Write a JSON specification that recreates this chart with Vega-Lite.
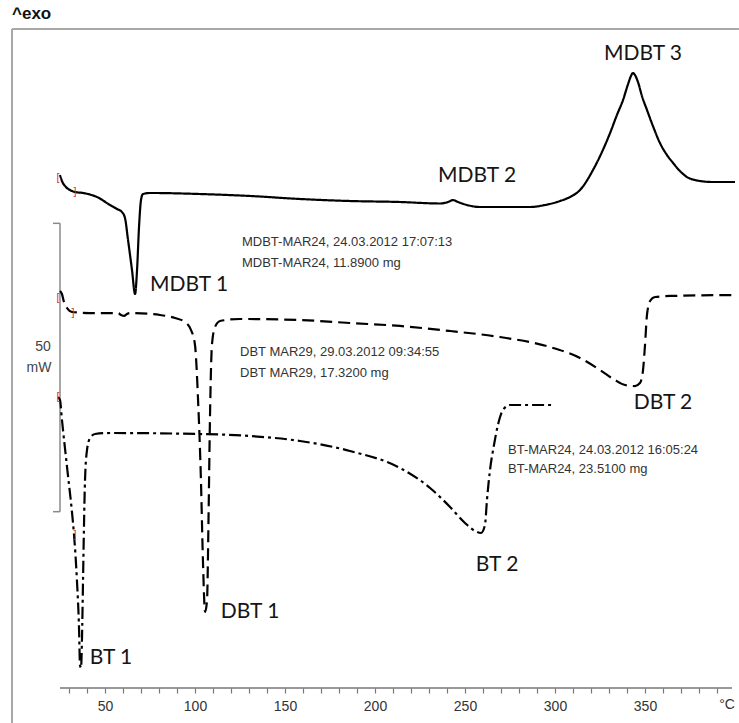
{
  "$schema": "https://vega.github.io/schema/vega-lite/v6.json",
  "width": 739,
  "height": 688,
  "autosize": {"type": "none"},
  "padding": {"left": 0, "top": 0, "right": 0, "bottom": 35},
  "background": "white",
  "config": {"view": {"stroke": null}},
  "datasets": {
    "curves": [
      {"s":"MDBT","t":25.0,"mw":94.81},{"s":"MDBT","t":26.1,"mw":93.77},{"s":"MDBT","t":28.3,"mw":92.73},{"s":"MDBT","t":30.6,"mw":92.21},{"s":"MDBT","t":33.3,"mw":91.87},{"s":"MDBT","t":37.8,"mw":91.70},{"s":"MDBT","t":45.6,"mw":91.00},{"s":"MDBT","t":52.8,"mw":89.62},{"s":"MDBT","t":56.7,"mw":88.93},{"s":"MDBT","t":59.4,"mw":88.41},{"s":"MDBT","t":61.1,"mw":87.37},{"s":"MDBT","t":62.8,"mw":83.56},{"s":"MDBT","t":65.0,"mw":78.37},{"s":"MDBT","t":66.7,"mw":74.22},{"s":"MDBT","t":67.8,"mw":78.37},{"s":"MDBT","t":68.9,"mw":85.81},{"s":"MDBT","t":70.0,"mw":90.48},{"s":"MDBT","t":71.1,"mw":91.52},{"s":"MDBT","t":75.0,"mw":91.70},{"s":"MDBT","t":102.8,"mw":91.52},{"s":"MDBT","t":130.6,"mw":91.18},{"s":"MDBT","t":158.3,"mw":90.66},{"s":"MDBT","t":186.1,"mw":90.31},{"s":"MDBT","t":213.9,"mw":90.14},{"s":"MDBT","t":236.1,"mw":89.88},{"s":"MDBT","t":240.6,"mw":90.14},{"s":"MDBT","t":243.3,"mw":90.48},{"s":"MDBT","t":246.1,"mw":90.14},{"s":"MDBT","t":251.1,"mw":89.62},{"s":"MDBT","t":258.3,"mw":89.27},{"s":"MDBT","t":286.1,"mw":89.27},{"s":"MDBT","t":294.4,"mw":89.62},{"s":"MDBT","t":302.8,"mw":90.31},{"s":"MDBT","t":308.3,"mw":91.00},{"s":"MDBT","t":313.9,"mw":92.21},{"s":"MDBT","t":321.1,"mw":95.67},{"s":"MDBT","t":326.1,"mw":98.79},{"s":"MDBT","t":330.6,"mw":102.08},{"s":"MDBT","t":334.4,"mw":105.19},{"s":"MDBT","t":337.8,"mw":107.79},{"s":"MDBT","t":340.6,"mw":110.55},{"s":"MDBT","t":342.2,"mw":111.94},{"s":"MDBT","t":343.3,"mw":112.46},{"s":"MDBT","t":344.4,"mw":112.11},{"s":"MDBT","t":346.1,"mw":110.90},{"s":"MDBT","t":348.3,"mw":108.48},{"s":"MDBT","t":351.1,"mw":106.06},{"s":"MDBT","t":354.4,"mw":103.29},{"s":"MDBT","t":358.3,"mw":100.35},{"s":"MDBT","t":362.2,"mw":98.27},{"s":"MDBT","t":365.6,"mw":96.89},{"s":"MDBT","t":369.4,"mw":95.50},{"s":"MDBT","t":373.3,"mw":94.46},{"s":"MDBT","t":377.8,"mw":93.94},{"s":"MDBT","t":380.6,"mw":93.77},{"s":"MDBT","t":387.8,"mw":93.60},{"s":"MDBT","t":400.0,"mw":93.60},
      {"s":"DBT","t":25.0,"mw":74.74},{"s":"DBT","t":26.1,"mw":74.22},{"s":"DBT","t":27.2,"mw":72.84},{"s":"DBT","t":28.9,"mw":71.80},{"s":"DBT","t":31.7,"mw":71.11},{"s":"DBT","t":41.7,"mw":70.93},{"s":"DBT","t":57.2,"mw":70.93},{"s":"DBT","t":58.9,"mw":70.59},{"s":"DBT","t":60.6,"mw":70.42},{"s":"DBT","t":62.2,"mw":70.76},{"s":"DBT","t":63.9,"mw":70.93},{"s":"DBT","t":80.6,"mw":70.59},{"s":"DBT","t":88.9,"mw":70.07},{"s":"DBT","t":94.4,"mw":69.38},{"s":"DBT","t":97.8,"mw":67.99},{"s":"DBT","t":100.0,"mw":65.40},{"s":"DBT","t":101.7,"mw":55.88},{"s":"DBT","t":103.3,"mw":42.04},{"s":"DBT","t":104.4,"mw":28.20},{"s":"DBT","t":105.6,"mw":19.20},{"s":"DBT","t":106.7,"mw":21.28},{"s":"DBT","t":107.5,"mw":35.12},{"s":"DBT","t":108.3,"mw":52.42},{"s":"DBT","t":109.4,"mw":65.40},{"s":"DBT","t":111.1,"mw":68.51},{"s":"DBT","t":113.9,"mw":69.55},{"s":"DBT","t":125.0,"mw":69.90},{"s":"DBT","t":158.3,"mw":69.72},{"s":"DBT","t":186.1,"mw":69.20},{"s":"DBT","t":213.9,"mw":68.69},{"s":"DBT","t":241.7,"mw":67.82},{"s":"DBT","t":269.4,"mw":66.78},{"s":"DBT","t":297.2,"mw":65.05},{"s":"DBT","t":313.9,"mw":63.15},{"s":"DBT","t":325.0,"mw":61.07},{"s":"DBT","t":333.3,"mw":59.34},{"s":"DBT","t":338.9,"mw":58.48},{"s":"DBT","t":344.4,"mw":58.30},{"s":"DBT","t":347.2,"mw":58.82},{"s":"DBT","t":348.9,"mw":61.07},{"s":"DBT","t":350.0,"mw":65.40},{"s":"DBT","t":351.1,"mw":70.59},{"s":"DBT","t":352.8,"mw":73.01},{"s":"DBT","t":355.6,"mw":73.70},{"s":"DBT","t":363.9,"mw":73.88},{"s":"DBT","t":401.1,"mw":74.05},
      {"s":"BT","t":23.9,"mw":56.40},{"s":"BT","t":25.0,"mw":55.88},{"s":"BT","t":26.1,"mw":52.42},{"s":"BT","t":28.9,"mw":44.29},{"s":"BT","t":31.7,"mw":36.33},{"s":"BT","t":32.8,"mw":32.53},{"s":"BT","t":34.4,"mw":24.74},{"s":"BT","t":35.6,"mw":16.09},{"s":"BT","t":36.1,"mw":10.03},{"s":"BT","t":36.7,"mw":9.52},{"s":"BT","t":37.2,"mw":14.36},{"s":"BT","t":37.8,"mw":24.74},{"s":"BT","t":38.3,"mw":33.74},{"s":"BT","t":38.9,"mw":42.04},{"s":"BT","t":40.0,"mw":47.23},{"s":"BT","t":41.7,"mw":49.31},{"s":"BT","t":44.4,"mw":50.00},{"s":"BT","t":52.8,"mw":50.17},{"s":"BT","t":102.8,"mw":50.00},{"s":"BT","t":130.6,"mw":49.65},{"s":"BT","t":158.3,"mw":48.79},{"s":"BT","t":186.1,"mw":47.06},{"s":"BT","t":213.9,"mw":44.12},{"s":"BT","t":230.6,"mw":40.66},{"s":"BT","t":241.7,"mw":37.37},{"s":"BT","t":250.0,"mw":34.60},{"s":"BT","t":255.6,"mw":33.22},{"s":"BT","t":258.9,"mw":32.87},{"s":"BT","t":261.1,"mw":34.26},{"s":"BT","t":262.2,"mw":38.58},{"s":"BT","t":263.9,"mw":43.77},{"s":"BT","t":266.1,"mw":48.10},{"s":"BT","t":268.3,"mw":51.56},{"s":"BT","t":271.1,"mw":54.15},{"s":"BT","t":275.0,"mw":55.02},{"s":"BT","t":298.9,"mw":55.02}
    ],
    "frame": [
      {"t":-1.667,"mw":120.07,"t2":-1.667,"mw2":0},
      {"t":-1.667,"mw":120.07,"t2":402.2,"mw2":120.07}
    ],
    "scalebar": [
      {"t":25,"mw":86.45,"t2":25,"mw2":36.56},
      {"t":21.1,"mw":86.45,"t2":25,"mw2":86.45},
      {"t":21.1,"mw":36.56,"t2":25,"mw2":36.56}
    ],
    "axisline": [
      {"t":25,"mw":6.055,"t2":398.3,"mw2":6.055}
    ],
    "peaks": [
      {"t":348.9,"mw":115.7,"label":"MDBT 3"},
      {"t":256.7,"mw":94.6,"label":"MDBT 2"},
      {"t":96.7,"mw":75.8,"label":"MDBT 1"},
      {"t":130.6,"mw":19.2,"label":"DBT 1"},
      {"t":360.0,"mw":55.4,"label":"DBT 2"},
      {"t":267.8,"mw":27.3,"label":"BT 2"},
      {"t":53.3,"mw":11.2,"label":"BT 1"}
    ],
    "info": [
      {"t":126.1,"mw":83.2,"label":"MDBT-MAR24, 24.03.2012 17:07:13"},
      {"t":126.1,"mw":79.6,"label":"MDBT-MAR24, 11.8900 mg"},
      {"t":125.0,"mw":64.2,"label":"DBT MAR29, 29.03.2012 09:34:55"},
      {"t":125.0,"mw":60.6,"label":"DBT MAR29, 17.3200 mg"},
      {"t":273.9,"mw":47.2,"label":"BT-MAR24, 24.03.2012 16:05:24"},
      {"t":273.9,"mw":43.9,"label":"BT-MAR24, 23.5100 mg"}
    ],
    "scaletext": [
      {"t":15.6,"mw":65.05,"label":"50"},
      {"t":13.3,"mw":61.4,"label":"mW"}
    ],
    "brackets": [
      {"t":23.9,"mw":94.3,"label":"["},
      {"t":33.3,"mw":91.9,"label":"]"},
      {"t":23.9,"mw":73.5,"label":"["},
      {"t":32.2,"mw":70.9,"label":"]"},
      {"t":23.9,"mw":56.4,"label":"["},
      {"t":33.3,"mw":32.5,"label":"]"}
    ],
    "unit": [{"t":395.6,"mw":3.11,"label":"°C"}],
    "exo": [{"t":-1.667,"mw":122.66,"label":"^exo"}]
  },
  "encoding": {
    "x": {
      "field": "t", "type": "quantitative",
      "scale": {"domain": [-8.333, 402.222], "nice": false, "zero": false},
      "axis": {
        "title": null, "domain": false, "grid": false, "orient": "bottom",
        "values": [30,40,50,60,70,80,90,100,110,120,130,140,150,160,170,180,190,200,210,220,230,240,250,260,270,280,290,300,310,320,330,340,350,360,370,380,390],
        "labelExpr": "datum.value % 50 == 0 ? datum.label : ''",
        "tickSize": 5, "tickColor": "#777", "tickWidth": 1.2,
        "labelFont": "Liberation Sans", "labelFontSize": 14, "labelColor": "#333",
        "labelPadding": 6
      }
    },
    "y": {
      "field": "mw", "type": "quantitative",
      "scale": {"domain": [6.055, 125.087], "nice": false, "zero": false},
      "axis": null
    }
  },
  "layer": [
    {
      "data": {"name": "frame"},
      "mark": {"type": "rule", "color": "#a8a8a8", "strokeWidth": 2},
      "encoding": {"x2": {"field": "t2"}, "y2": {"field": "mw2"}}
    },
    {
      "data": {"name": "scalebar"},
      "mark": {"type": "rule", "color": "#8a8a8a", "strokeWidth": 1.5},
      "encoding": {"x2": {"field": "t2"}, "y2": {"field": "mw2"}}
    },
    {
      "data": {"name": "axisline"},
      "mark": {"type": "rule", "color": "#777", "strokeWidth": 1.5},
      "encoding": {"x2": {"field": "t2"}, "y2": {"field": "mw2"}}
    },
    {
      "data": {"name": "curves"},
      "mark": {"type": "line", "color": "#000", "strokeWidth": 2.2, "interpolate": "monotone"},
      "encoding": {
        "detail": {"field": "s", "type": "nominal"},
        "strokeDash": {
          "field": "s", "type": "nominal",
          "scale": {"domain": ["MDBT", "DBT", "BT"], "range": [[1, 0], [12, 6], [12, 4, 3, 4]]},
          "legend": null
        }
      }
    },
    {
      "data": {"name": "brackets"},
      "mark": {"type": "text", "color": "#e03030", "fontSize": 11, "font": "Liberation Sans", "align": "center", "baseline": "middle"},
      "encoding": {"text": {"field": "label"}}
    },
    {
      "data": {"name": "peaks"},
      "mark": {"type": "text", "color": "#151515", "fontSize": 21, "font": "Lato", "align": "center", "baseline": "middle"},
      "encoding": {"text": {"field": "label"}}
    },
    {
      "data": {"name": "info"},
      "mark": {"type": "text", "color": "#333", "fontSize": 13, "font": "Liberation Sans", "align": "left", "baseline": "middle"},
      "encoding": {"text": {"field": "label"}}
    },
    {
      "data": {"name": "scaletext"},
      "mark": {"type": "text", "color": "#444", "fontSize": 14, "font": "Liberation Sans", "align": "center", "baseline": "middle"},
      "encoding": {"text": {"field": "label"}}
    },
    {
      "data": {"name": "unit"},
      "mark": {"type": "text", "color": "#333", "fontSize": 14, "font": "Liberation Sans", "align": "center", "baseline": "middle"},
      "encoding": {"text": {"field": "label"}}
    },
    {
      "data": {"name": "exo"},
      "mark": {"type": "text", "color": "#111", "fontSize": 17, "fontWeight": "bold", "font": "Liberation Sans", "align": "left", "baseline": "middle"},
      "encoding": {"text": {"field": "label"}}
    }
  ]
}
